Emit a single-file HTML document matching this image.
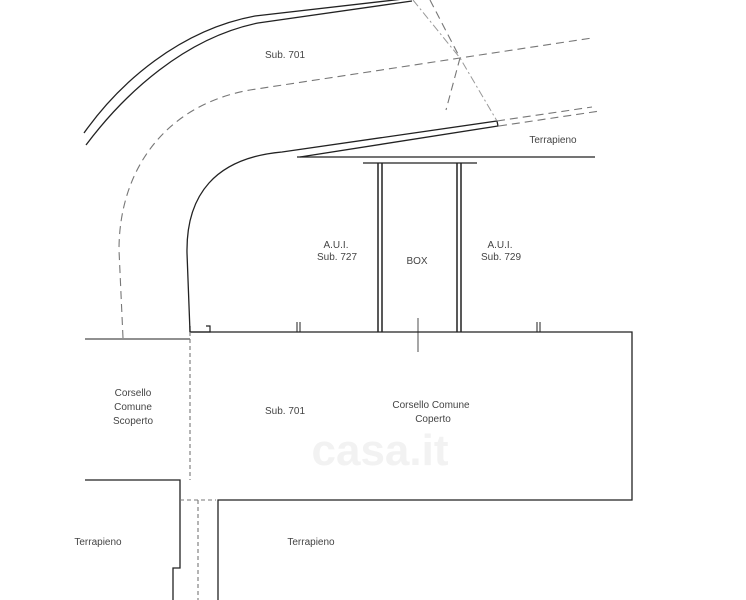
<!DOCTYPE html>
<html><head><meta charset="utf-8"><style>
html,body{margin:0;padding:0;background:#fff;}
svg{display:block;}
text{font-family:"Liberation Sans",sans-serif;font-size:10px;fill:#444;text-anchor:middle;}
</style></head><body>
<svg width="746" height="600" viewBox="0 0 746 600" xmlns="http://www.w3.org/2000/svg">
<g fill="none" stroke="#222" stroke-width="1.3">
<path d="M84,133 C120,82 180,30 255,16 L412,-2"/>
<path d="M86,145 C125,93 185,38 258,23 L412,1"/>
<path d="M190,332 L187,253 C186,195 215,158 282,152 L497,121 L498,126 L300,157"/>
<path d="M297,157 L595,157"/>
<path d="M363,163 L477,163"/>
<path d="M378,163 V332 M382,163 V332 M457,163 V332 M461,163 V332" stroke-width="1.5"/>
<path d="M190,332 L632,332 L632,500 L218,500 L218,600"/>
<path d="M190,326 V332 H210 V326 H206" stroke-width="1.2"/>
<path d="M297,322 V332 M300,322 V332 M537,322 V332 M540,322 V332" stroke-width="1"/>
<path d="M418,318 V352" stroke-width="0.8"/>
<path d="M85,339 H190" stroke-width="1"/>
<path d="M85,480 H180 V568 H173 V600"/>
</g>
<g fill="none" stroke="#777" stroke-width="1.1" stroke-dasharray="8,5">
<path d="M123,338 L119,250 C119,170 165,105 250,90 L460,58 L592,38"/>
<path d="M497,121 L592,107 M499,126 L600,111"/>
<path d="M430,0 L460,58 L446,110"/>
<path d="M190,332 V480 M180,500 H216 M198,500 V600" stroke-dasharray="4,3"/>
</g>
<path d="M413,0 L460,58 L497,121" fill="none" stroke="#999" stroke-width="1" stroke-dasharray="8,3,2,3"/>
<text x="285" y="58">Sub. 701</text>
<text x="553" y="143">Terrapieno</text>
<text x="336" y="248">A.U.I.</text>
<text x="337" y="260">Sub. 727</text>
<text x="417" y="264">BOX</text>
<text x="500" y="248">A.U.I.</text>
<text x="501" y="260">Sub. 729</text>
<text x="133" y="396">Corsello</text>
<text x="133" y="410">Comune</text>
<text x="133" y="424">Scoperto</text>
<text x="285" y="414">Sub. 701</text>
<text x="431" y="408">Corsello Comune</text>
<text x="433" y="422">Coperto</text>
<text x="98" y="545">Terrapieno</text>
<text x="311" y="545">Terrapieno</text>
<text x="380" y="465" style="font-size:44px;fill:#f2f2f2;font-weight:bold">casa.it</text>
</svg>
</body></html>
